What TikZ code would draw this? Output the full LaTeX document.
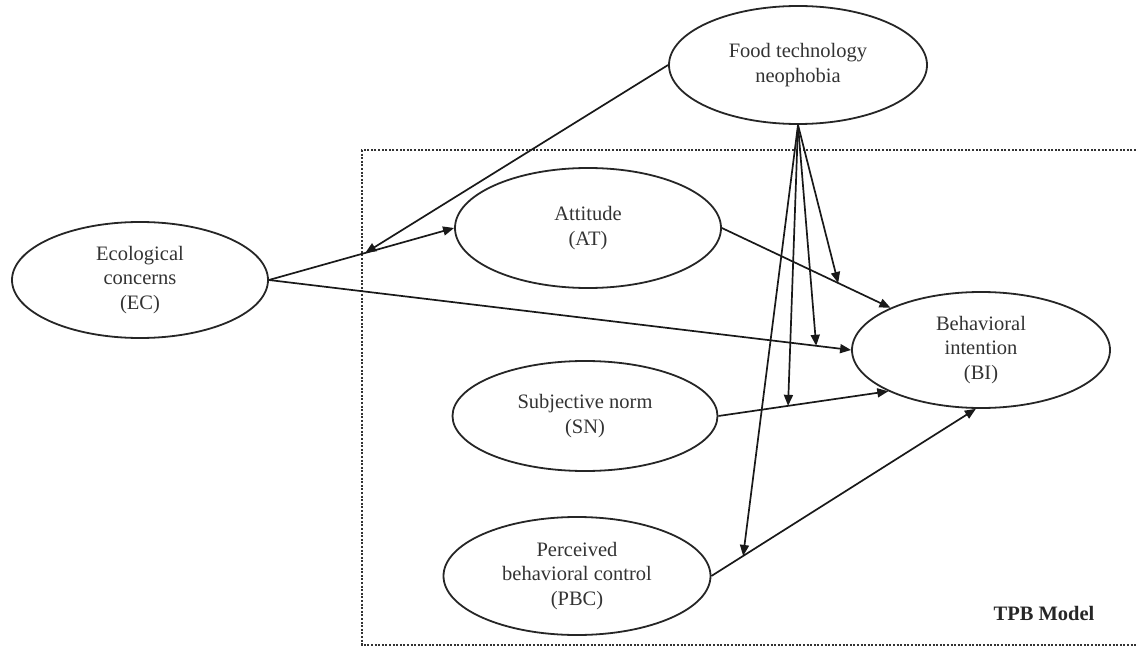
\documentclass[tikz,border=0pt]{standalone}
\usepackage{fontspec}
\setmainfont{Liberation Serif}
\usetikzlibrary{shapes.geometric,arrows.meta}

\tikzset{
  construct/.style={draw=black!85, line width=1.8pt, ellipse, inner sep=0pt,
    align=center, text=black!80, font=\fontsize{20.5}{24.5}\selectfont},
  path/.style={draw=black!90, line width=1.7pt, -{Triangle[length=11pt,width=9pt]}},
  moderation/.style={path},
  frame/.style={draw=black!80, line width=2pt, dash pattern=on 2pt off 1.6pt}
}

\begin{document}
\begin{tikzpicture}[x=1pt,y=-1pt]
  \useasboundingbox (0,0) rectangle (1136,650);

  % TPB model frame (open on the right)
  \draw[frame] (1136,150) -- (362,150) -- (362,645) -- (1136,645);
  \node[font=\fontsize{20.5}{24}\selectfont\bfseries, text=black!85] (tpb) at (1044,613) {TPB Model};

  % constructs
  \node[construct, minimum width=256pt, minimum height=116pt] (EC)  at (140,280) {Ecological\\concerns\\(EC)};
  \node[construct, minimum width=258pt, minimum height=118pt] (FTN) at (798,65)  {Food technology\\neophobia};
  \node[construct, minimum width=266pt, minimum height=120pt] (AT)  at (588,228) {Attitude\\(AT)};
  \node[construct, minimum width=258pt, minimum height=116pt] (BI)  at (981,350) {Behavioral\\intention\\(BI)};
  \node[construct, minimum width=265pt, minimum height=110pt] (SN)  at (585,416) {Subjective norm\\(SN)};
  \node[construct, minimum width=267pt, minimum height=118pt] (PBC) at (577,576) {Perceived\\behavioral control\\(PBC)};

  % direct paths
  \draw[path] (EC.east) -- (AT.west) coordinate[pos=0.52] (mEA);
  \draw[path] (EC.east) -- (BI.west) coordinate[pos=0.94] (mEB);
  \draw[path] (AT.east) -- (BI.155) coordinate[pos=0.69] (mAB);
  \draw[path] (SN.east) -- (BI.204) coordinate[pos=0.41] (mSB);
  \draw[path] (PBC.east) -- (BI.265) coordinate[pos=0.12] (mPB);

  % moderating effects of neophobia
  \draw[moderation] (FTN.west) -- (mEA);
  \draw[moderation] (FTN.south) -- (mAB);
  \draw[moderation] (FTN.south) -- (mEB);
  \draw[moderation] (FTN.south) -- (mSB);
  \draw[moderation] (FTN.south) -- (mPB);
\end{tikzpicture}
\end{document}
